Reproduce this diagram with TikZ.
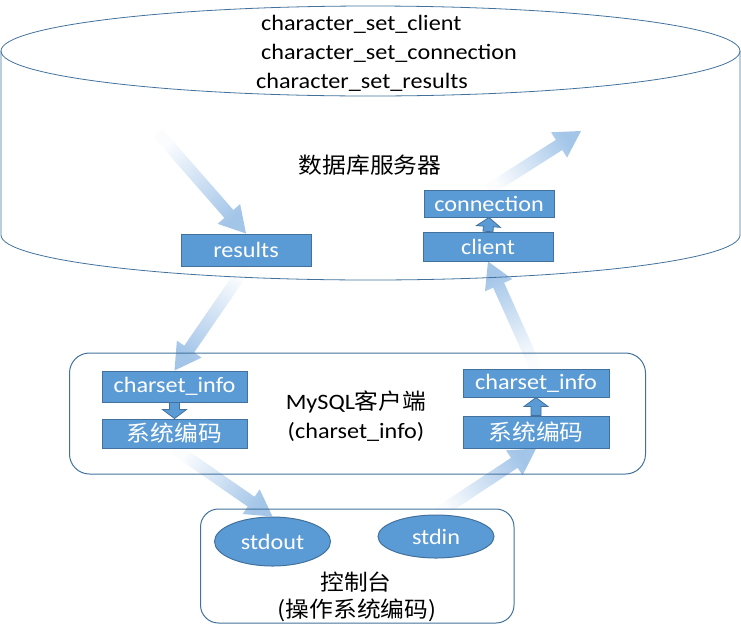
\documentclass[tikz,border=0pt]{standalone}
\usepackage{fontspec}
\setmainfont{Carlito}[FakeStretch=1.1]
\newfontfamily\cjk{Noto Sans CJK SC}[FakeStretch=1.08]
\usetikzlibrary{calc,backgrounds,shapes.geometric}

\definecolor{boxblue}{HTML}{5B9BD5}
\definecolor{lineblue}{HTML}{41719C}
\definecolor{fadeblue}{HTML}{A3C5E8}

\tikzset{
  txt/.style={font=\fontsize{22}{26}\selectfont, inner sep=0pt},
  codebox/.style={txt, draw=lineblue, fill=boxblue, text=white, line width=1pt},
  pipe/.style={txt, ellipse, draw=lineblue, fill=boxblue, text=white, line width=1pt},
  frame/.style={draw=lineblue, line width=1pt},
}

% #1 style, #2 tail, #3 tip, #4 half shaft, #5 half head, #6 head length
\newcommand\fatarrow[6]{%
  \coordinate (ah) at ($(#3)!#6!(#2)$);
  \path[#1] ($(#2)!#4!90:(#3)$) -- ($(ah)!#4!90:(#3)$) -- ($(ah)!#5!90:(#3)$) -- (#3)
    -- ($(ah)!#5!-90:(#3)$) -- ($(ah)!#4!-90:(#3)$) -- ($(#2)!#4!-90:(#3)$) -- cycle;
}
% faded wide arrow, white at the tail
\newcommand\fadearrow[2]{%
  \path (#1) coordinate (fa) (#2) coordinate (fb);
  \pgfmathanglebetweenpoints{\pgfpointanchor{fa}{center}}{\pgfpointanchor{fb}{center}}
  \pgfmathsetmacro\fang{\pgfmathresult-90}
  \fatarrow{top color=fadeblue, bottom color=fadeblue!5, shading angle=\fang}{fa}{fb}{6pt}{15pt}{26pt}
}

\begin{document}
\begin{tikzpicture}[x=1pt,y=-1pt]
\useasboundingbox (0,0) rectangle (741,638);

\def\rx{369.5} %cylinder x radius
\def\ry{45} %cylinder y radius

%server cylinder
\draw[frame, line width=0.8pt] (370.5,51) ellipse [x radius=\rx, y radius=\ry];
\draw[frame, line width=0.8pt] (1,51) -- (1,235) arc[start angle=180, end angle=0, x radius=\rx, y radius=\ry] -- (740,51);
\node[txt, anchor=west] (setclient) at (261,24) {character\_set\_client};
\node[txt, anchor=west] (setconn) at (261,53) {character\_set\_connection};
\node[txt, anchor=west] (setres) at (256,82) {character\_set\_results};
\node[txt] (server) at (370,165) {\cjk 数据库服务器};

\node[codebox, minimum width=130pt, minimum height=32pt] (results) at (246,250) {results};
\node[codebox, minimum width=130pt, minimum height=27pt] (conn) at (489,203.5) {connection};
\node[codebox, minimum width=130pt, minimum height=29pt] (client) at (488,246.5) {client};

%mysql client
\draw[frame, rounded corners=20pt] (69.5,353) rectangle (645.5,474);
\node[codebox, minimum width=145pt, minimum height=31pt] (lcs) at (174.5,386.5) {charset\_info};
\node[codebox, minimum width=145pt, minimum height=29pt] (lsys) at (174.5,433.5) {\cjk 系统编码};
\node[codebox, minimum width=146pt, minimum height=28pt] (rcs) at (536,383) {charset\_info};
\node[codebox, minimum width=146pt, minimum height=32pt] (rsys) at (536,432) {\cjk 系统编码};
\node[txt] (mysql) at (356,402) {MySQL{\cjk 客户端}};
\node[txt] (mysqlcs) at (356,432) {(charset\_info)};

%console
\draw[frame, rounded corners=18pt] (200.5,509) rectangle (514,623);
\node[pipe, minimum width=116pt, minimum height=49pt] (stdout) at (272.5,541.5) {stdout};
\node[pipe, minimum width=116pt, minimum height=43pt] (stdin) at (436,536.5) {stdin};
\node[txt] (console) at (356,582) {\cjk 控制台};
\node[txt] (consoleenc) at (357,610) {\cjk (操作系统编码)};

%small arrows between boxes
\fatarrow{draw=lineblue, fill=boxblue, line width=0.8pt}{client.north}{conn.south}{5pt}{12pt}{9pt}
\fatarrow{draw=lineblue, fill=boxblue, line width=0.8pt}{lcs.south}{lsys.north}{5pt}{12pt}{9pt}
\fatarrow{draw=lineblue, fill=boxblue, line width=0.8pt}{rsys.north}{rcs.south}{5pt}{12pt}{9pt}

%data flow
\coordinate (srvin) at (158,133);
\coordinate (srvout) at (581,131);
\begin{scope}[on background layer]
\fadearrow{srvin}{results.north}
\fadearrow{results.south}{lcs.north}
\fadearrow{lsys.south}{stdout.north}
\fadearrow{stdin.north}{rsys.south}
\fadearrow{rcs.north}{client.south}
\fadearrow{conn.north}{srvout}
\end{scope}
\end{tikzpicture}
\end{document}
